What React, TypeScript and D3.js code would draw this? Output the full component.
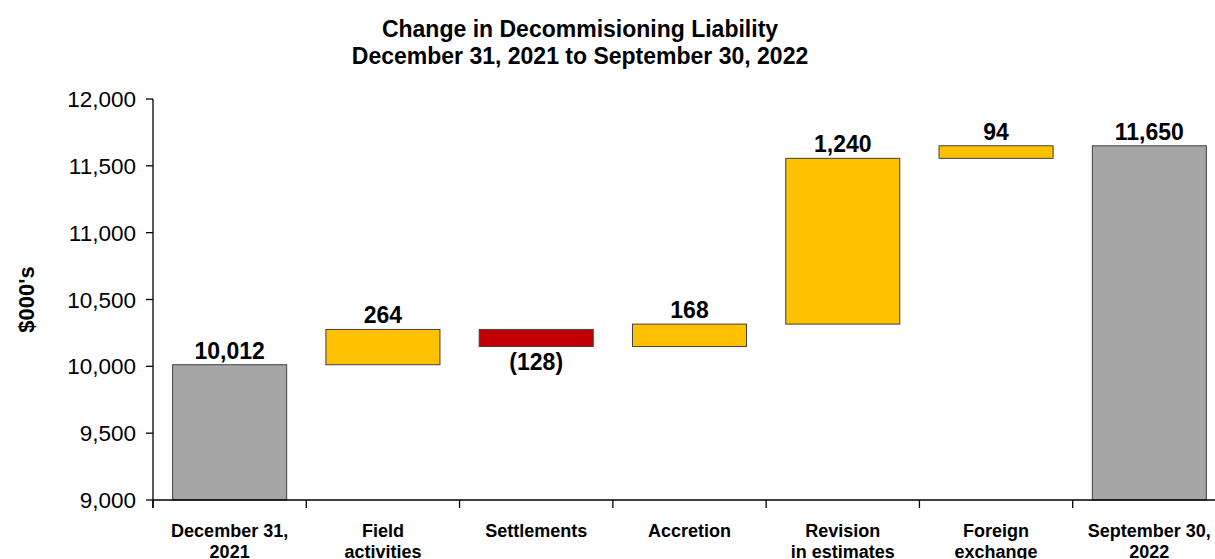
import React from "react";
import * as d3 from "d3";

const categories: string[][] = [
  ["December 31,", "2021"],
  ["Field", "activities"],
  ["Settlements"],
  ["Accretion"],
  ["Revision", "in estimates"],
  ["Foreign", "exchange"],
  ["September 30,", "2022"],
];
const kinds = ["total", "delta", "delta", "delta", "delta", "delta", "total"];
const values = [10012, 264, -128, 168, 1240, 94, 11650];
const valueLabels = ["10,012", "264", "(128)", "168", "1,240", "94", "11,650"];
const yTicks = [9000, 9500, 10000, 10500, 11000, 11500, 12000];
const titleLines = ["Change in Decommisioning Liability", "December 31, 2021 to September 30, 2022"];
const yTitle = "$000's";

const W = 1215;
const H = 559;
const FONT = "'Liberation Sans', Arial, Helvetica, sans-serif";

export default function App() {
  const left = 153;
  const right = 1226;
  const y = d3.scaleLinear().domain([9000, 12000]).range([500, 99]);
  const keys = categories.map((_, i) => String(i));
  const x = d3.scaleBand().domain(keys).range([left, right]).paddingInner(0.256).paddingOuter(0.128);
  const step = x.step();

  let running = 0;
  const bars = values.map((v, i) => {
    let lo: number, hi: number, color: string;
    if (kinds[i] === "total") {
      lo = 9000;
      hi = v;
      running = v;
      color = "#A6A6A6";
    } else {
      const start = running;
      running = running + v;
      lo = Math.min(start, running);
      hi = Math.max(start, running);
      color = v < 0 ? "#C00000" : "#FFC000";
    }
    return { i, lo, hi, color, v };
  });

  const fmt = d3.format(",");

  return (
    <svg
      width={W}
      height={H}
      style={{ position: "absolute", left: 0, top: 0, display: "block", background: "#fff" }}
      fontFamily={FONT}
    >
      <text x={580} y={37} textAnchor="middle" fontSize={23} fontWeight="bold" fill="#000">
        {titleLines[0]}
      </text>
      <text x={580} y={64} textAnchor="middle" fontSize={23} fontWeight="bold" fill="#000">
        {titleLines[1]}
      </text>

      <text
        transform={`translate(34,${(y(9000) + y(12000)) / 2}) rotate(-90)`}
        textAnchor="middle"
        fontSize={22}
        fontWeight="bold"
        fill="#000"
      >
        {yTitle}
      </text>

      {bars.map((b) => {
        const x0 = x(String(b.i))!;
        return (
          <rect
            key={b.i}
            x={x0}
            y={y(b.hi)}
            width={x.bandwidth()}
            height={y(b.lo) - y(b.hi)}
            fill={b.color}
            stroke="#404040"
            strokeWidth={1}
          />
        );
      })}

      {/* y axis */}
      <line x1={left} x2={left} y1={y(12000)} y2={508} stroke="#000" strokeWidth={1.3} />
      {yTicks.map((t) => (
        <g key={t}>
          <line x1={left - 7} x2={left} y1={y(t)} y2={y(t)} stroke="#000" strokeWidth={1.3} />
          <text x={left - 17} y={y(t)} dy="0.36em" textAnchor="end" fontSize={22.5} fill="#000">
            {fmt(t)}
          </text>
        </g>
      ))}

      {/* x axis */}
      <line x1={left} x2={W} y1={y(9000)} y2={y(9000)} stroke="#000" strokeWidth={1.3} />
      {keys.map((k) => {
        const bx = x(k)! - (step - x.bandwidth()) / 2;
        return <line key={k} x1={bx} x2={bx} y1={y(9000)} y2={508} stroke="#000" strokeWidth={1.3} />;
      })}

      {categories.map((lines, i) => {
        const cx = x(String(i))! + x.bandwidth() / 2;
        return (
          <text key={i} textAnchor="middle" fontSize={18} fontWeight="bold" fill="#000">
            {lines.map((l, j) => (
              <tspan key={j} x={cx} y={537 + j * 21}>
                {l}
              </tspan>
            ))}
          </text>
        );
      })}

      {bars.map((b) => {
        const cx = x(String(b.i))! + x.bandwidth() / 2;
        const below = b.v < 0 && kinds[b.i] === "delta";
        return (
          <text
            key={b.i}
            x={cx}
            y={below ? y(b.lo) + 7 : y(b.hi) - 6}
            dy={below ? "0.72em" : 0}
            textAnchor="middle"
            fontSize={23}
            fontWeight="bold"
            fill="#000"
          >
            {valueLabels[b.i]}
          </text>
        );
      })}
    </svg>
  );
}
